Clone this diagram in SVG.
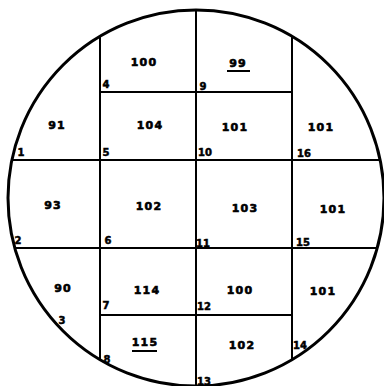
<svg xmlns="http://www.w3.org/2000/svg" width="384" height="386" viewBox="0 0 384 386">
<style>
.ln{stroke:#000;stroke-width:2;fill:none}
.c{stroke:#000;stroke-width:3;fill:none}
.v{font-family:"DejaVu Sans",sans-serif;font-weight:bold;font-size:11px;letter-spacing:1.2px;text-anchor:middle;fill:#000;stroke:#000;stroke-width:0.6px}
.s{font-family:"DejaVu Sans",sans-serif;font-weight:bold;font-size:10px;text-anchor:middle;fill:#000;stroke:#000;stroke-width:0.5px}
.u{stroke:#000;stroke-width:2}
</style>
<rect width="384" height="386" fill="#fff"/>
<g id="outline">
<circle class="c" cx="196" cy="198" r="188"/>
</g>
<g id="grid-lines">
<line class="ln" x1="100" y1="36" x2="100" y2="360"/>
<line class="ln" x1="196" y1="10" x2="196" y2="386"/>
<line class="ln" x1="292" y1="36" x2="292" y2="360"/>
<line class="ln" x1="100" y1="92" x2="292" y2="92"/>
<line class="ln" x1="12" y1="160" x2="380" y2="160"/>
<line class="ln" x1="15" y1="248" x2="377" y2="248"/>
<line class="ln" x1="100" y1="315" x2="292" y2="315"/>
</g>
<g id="cell-values">
<text class="v" x="144" y="66">100</text>
<g id="v99"><text class="v" x="238" y="67">99</text><line class="u" x1="227" y1="71" x2="250" y2="71"/></g>
<text class="v" x="57" y="129">91</text>
<text class="v" x="150" y="129">104</text>
<text class="v" x="235" y="131">101</text>
<text class="v" x="321" y="131">101</text>
<text class="v" x="53" y="209">93</text>
<text class="v" x="149" y="210">102</text>
<text class="v" x="245" y="212">103</text>
<text class="v" x="333" y="213">101</text>
<text class="v" x="63" y="292">90</text>
<text class="v" x="147" y="294">114</text>
<text class="v" x="240" y="294">100</text>
<text class="v" x="323" y="295">101</text>
<g id="v115"><text class="v" x="145" y="346">115</text><line class="u" x1="132" y1="351" x2="157" y2="351"/></g>
<text class="v" x="242" y="349">102</text>
</g>
<g id="point-labels">
<text class="s" x="21" y="156">1</text>
<text class="s" x="18" y="244">2</text>
<text class="s" x="62" y="324">3</text>
<text class="s" x="106" y="88">4</text>
<text class="s" x="106" y="156">5</text>
<text class="s" x="108" y="244">6</text>
<text class="s" x="106" y="309">7</text>
<text class="s" x="107" y="363">8</text>
<text class="s" x="203" y="90">9</text>
<text class="s" x="205" y="156">10</text>
<text class="s" x="203" y="247">11</text>
<text class="s" x="204" y="310">12</text>
<text class="s" x="204" y="385">13</text>
<text class="s" x="300" y="349">14</text>
<text class="s" x="303" y="246">15</text>
<text class="s" x="304" y="157">16</text>
</g>
</svg>
